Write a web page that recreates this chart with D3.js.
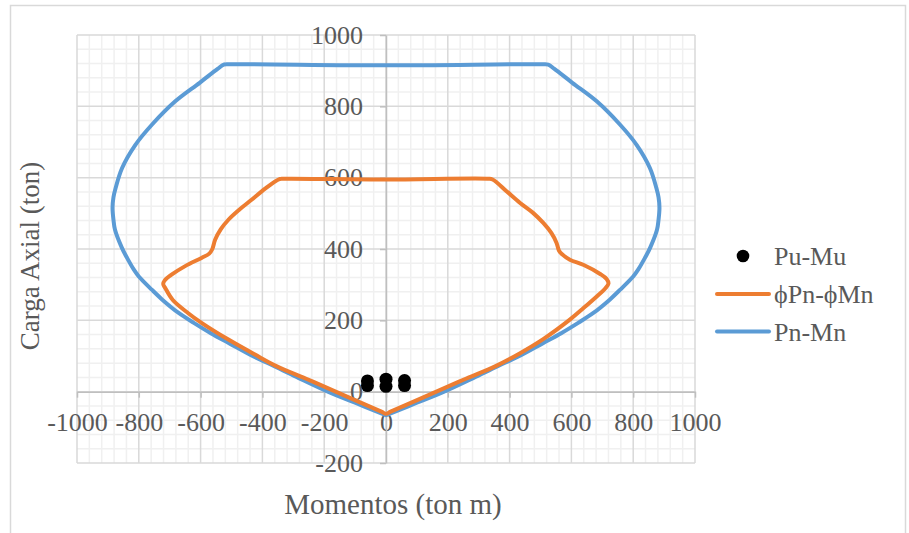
<!DOCTYPE html>
<html>
<head>
<meta charset="utf-8">
<script src="https://cdn.jsdelivr.net/npm/d3@7"></script>
<style>
  html, body { margin: 0; padding: 0; background: #fff; }
  svg { display: block; }
  text { font-family: "Liberation Serif", "Times New Roman", serif; fill: #595959; }
</style>
</head>
<body>
<svg id="chart" width="909" height="533"></svg>
<script>
// Interaction diagram: nominal (Pn-Mn) and design (phiPn-phiMn) curves, with factored loads (Pu-Mu)
const xTicks = [-1000, -800, -600, -400, -200, 0, 200, 400, 600, 800, 1000];
const yTicks = [-200, 0, 200, 400, 600, 800, 1000];

// Pn-Mn (ton m, ton), traced around the closed curve
const pnM = [-505, -525, -545, -603, -682, -757, -811, -854, -875, -882, -885, -882, -877, -855, -838, -816, -800, -758, -724, -670, -622, -567, -508, -425, -360, -282, -188, -100, -15, 0,
             15, 100, 188, 282, 360, 425, 508, 567, 622, 670, 724, 758, 800, 816, 838, 855, 877, 882, 885, 882, 875, 854, 811, 757, 682, 603, 545, 525, 505, 0];
const pnP = [918, 917, 905, 866, 814, 749, 692, 627, 571, 545, 515, 482, 454, 404, 375, 342, 323, 286, 258, 220, 193, 164, 136, 97, 71, 38, 0, -31, -61, -66,
             -61, -31, 0, 38, 71, 97, 136, 164, 193, 220, 258, 286, 323, 342, 375, 404, 454, 482, 515, 545, 571, 627, 692, 749, 814, 866, 905, 917, 918, 915];

// phiPn-phiMn (ton m, ton)
const phiM = [-330, -345, -390, -435, -475, -510, -535, -553, -562, -572, -597, -650, -694, -716, -721, -714, -690, -640, -597, -510, -424, -353, -260, -163, -15, 0,
              15, 163, 260, 353, 434, 510, 595, 640, 682, 708, 720, 714, 693, 640, 595, 570, 560, 552, 535, 509, 475, 434, 390, 345, 330, 0];
const phiP = [597, 596, 570, 538, 510, 482, 455, 426, 400, 387, 375, 352, 328, 312, 302, 290, 257, 220, 193, 146, 104, 71, 37, 0, -56, -62,
              -56, 0, 37, 71, 108, 148, 202, 235, 267, 288, 303, 316, 330, 355, 370, 385, 395, 417, 445, 473, 502, 529, 562, 595, 597, 595];

// Pu-Mu factored load points
const puM = [-60, -60, 0, 0, 60, 60];
const puP = [17, 30, 15, 35, 17, 31];

const seriesNames = ["Pu-Mu", "\u03D5Pn-\u03D5Mn", "Pn-Mn"];
const blue = "#5b9bd5", orange = "#ed7d31";

const svg = d3.select("#chart");

// outer chart frame
svg.append("rect")
  .attr("x", 10.5).attr("y", 5.5).attr("width", 895).attr("height", 540)
  .attr("fill", "none").attr("stroke", "#d9d9d9").attr("stroke-width", 1.5);

const x = d3.scaleLinear().domain([-1000, 1000]).range([77, 695]);
const y = d3.scaleLinear().domain([-200, 1000]).range([463, 35]);

// gridlines: minor every 40, major every 200
const minorX = d3.range(-1000, 1001, 40).filter(v => v % 200 !== 0);
const minorY = d3.range(-200, 1001, 40).filter(v => v % 200 !== 0);
const grid = svg.append("g");
grid.selectAll("line.mx").data(minorX).join("line")
  .attr("x1", d => x(d)).attr("x2", d => x(d)).attr("y1", y(1000)).attr("y2", y(-200))
  .attr("stroke", "#f0f0f0").attr("stroke-width", 1.5);
grid.selectAll("line.my").data(minorY).join("line")
  .attr("y1", d => y(d)).attr("y2", d => y(d)).attr("x1", x(-1000)).attr("x2", x(1000))
  .attr("stroke", "#f0f0f0").attr("stroke-width", 1.5);
grid.selectAll("line.Mx").data(xTicks).join("line")
  .attr("x1", d => x(d)).attr("x2", d => x(d)).attr("y1", y(1000)).attr("y2", y(-200))
  .attr("stroke", "#d9d9d9").attr("stroke-width", 1.5);
grid.selectAll("line.My").data(yTicks).join("line")
  .attr("y1", d => y(d)).attr("y2", d => y(d)).attr("x1", x(-1000)).attr("x2", x(1000))
  .attr("stroke", "#d9d9d9").attr("stroke-width", 1.5);

// axes crossing at the origin
const xAxis = svg.append("g")
  .attr("transform", `translate(0,${y(0)})`)
  .call(d3.axisBottom(x).tickValues(xTicks).tickSize(6).tickSizeOuter(0).tickPadding(15).tickFormat(d3.format("d")));
const yAxis = svg.append("g")
  .attr("transform", `translate(${x(0)},0)`)
  .call(d3.axisLeft(y).tickValues(yTicks).tickSize(6).tickSizeOuter(0).tickPadding(17).tickFormat(d3.format("d")));
[xAxis, yAxis].forEach(g => {
  g.select(".domain").attr("stroke", "#bfbfbf").attr("stroke-width", 1.5);
  g.selectAll(".tick line").attr("stroke", "#bfbfbf").attr("stroke-width", 1.5);
  g.selectAll(".tick text")
    .style("font-family", '"Liberation Serif", "Times New Roman", serif')
    .style("font-size", "26px").attr("fill", "#595959");
});
xAxis.selectAll(".tick text").text(d => d < 0 ? "-" + Math.abs(d) : d);
yAxis.selectAll(".tick text").text(d => d < 0 ? "-" + Math.abs(d) : d);

// curves (closed, smoothed)
const line = d3.line().x(d => x(d[0])).y(d => y(d[1])).curve(d3.curveCatmullRomClosed.alpha(0.5));
const pn = pnM.map((m, i) => [m, pnP[i]]);
const phi = phiM.map((m, i) => [m, phiP[i]]);

svg.append("path").datum(pn).attr("d", line)
  .attr("fill", "none").attr("stroke", blue).attr("stroke-width", 4)
  .attr("stroke-linejoin", "round").attr("stroke-linecap", "round");
svg.append("path").datum(phi).attr("d", line)
  .attr("fill", "none").attr("stroke", orange).attr("stroke-width", 4)
  .attr("stroke-linejoin", "round").attr("stroke-linecap", "round");

// factored loads
svg.append("g").selectAll("circle").data(puM.map((m, i) => [m, puP[i]])).join("circle")
  .attr("cx", d => x(d[0])).attr("cy", d => y(d[1])).attr("r", 6.5).attr("fill", "#000");

// axis titles
svg.append("text")
  .attr("x", 393).attr("y", 514).attr("text-anchor", "middle")
  .style("font-size", "29px").text("Momentos (ton m)");
svg.append("text")
  .attr("transform", "translate(39,256) rotate(-90)").attr("text-anchor", "middle")
  .style("font-size", "27px").text("Carga Axial (ton)");

// legend
const legend = svg.append("g");
legend.append("circle").attr("cx", 743).attr("cy", 256).attr("r", 6.3).attr("fill", "#000");
legend.append("line").attr("x1", 717).attr("x2", 769).attr("y1", 294).attr("y2", 294)
  .attr("stroke", orange).attr("stroke-width", 4).attr("stroke-linecap", "round");
legend.append("line").attr("x1", 717).attr("x2", 769).attr("y1", 331.5).attr("y2", 331.5)
  .attr("stroke", blue).attr("stroke-width", 4).attr("stroke-linecap", "round");
legend.selectAll("text.lg").data(seriesNames).join("text")
  .attr("x", 774).attr("y", (d, i) => 265 + i * 38)
  .style("font-size", "26px").text(d => d);
</script>
</body>
</html>
